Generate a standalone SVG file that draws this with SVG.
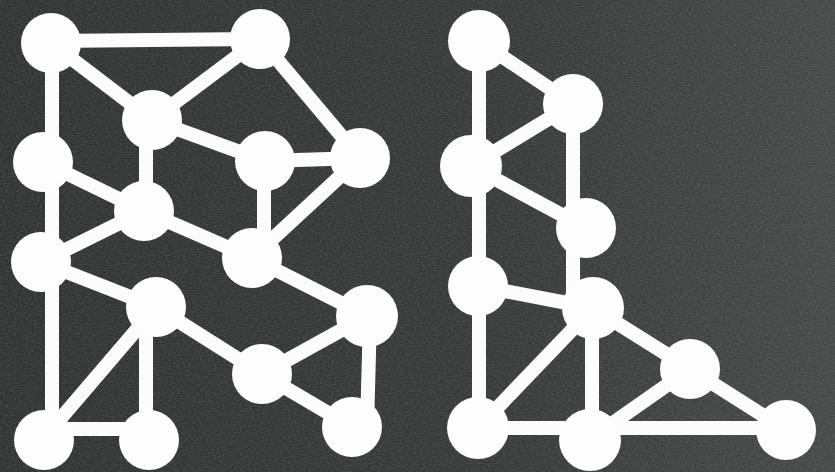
<svg xmlns="http://www.w3.org/2000/svg" width="835" height="472" viewBox="0 0 835 472">
<style>
.e{stroke:#fcfcfc;stroke-width:14;stroke-linecap:butt;fill:none}
.n{fill:#fdfdfd}
</style>
<defs>
<linearGradient id="bg" x1="0" y1="0" x2="1" y2="0">
<stop offset="0" stop-color="#2f3230"/>
<stop offset="0.6" stop-color="#363937"/>
<stop offset="1" stop-color="#454846"/>
</linearGradient>
<filter id="tex" x="0" y="0" width="1" height="1">
<feTurbulence type="fractalNoise" baseFrequency="0.35 0.9" numOctaves="2" seed="3" result="t"/>
<feColorMatrix type="matrix" values="0 0 0 0 0.6  0 0 0 0 0.62  0 0 0 0 0.6  0 0 0 0.3 -0.1"/>
</filter>
</defs>
<rect width="835" height="472" fill="url(#bg)"/>
<rect width="835" height="472" filter="url(#tex)"/>
<g id="connectors">
<line class="e" x1="51" y1="41" x2="260" y2="39"/>
<line class="e" x1="52" y1="43" x2="52" y2="438"/>
<line class="e" x1="51" y1="43" x2="152" y2="120"/>
<line class="e" x1="260" y1="39" x2="152" y2="120"/>
<line class="e" x1="260" y1="39" x2="360" y2="158"/>
<line class="e" x1="152" y1="120" x2="265" y2="161"/>
<line class="e" x1="146" y1="120" x2="146" y2="211"/>
<line class="e" x1="265" y1="161" x2="360" y2="158"/>
<line class="e" x1="264" y1="161" x2="264" y2="258"/>
<line class="e" x1="360" y1="158" x2="252" y2="258"/>
<line class="e" x1="43" y1="162" x2="144" y2="211"/>
<line class="e" x1="144" y1="211" x2="252" y2="258"/>
<line class="e" x1="41" y1="262" x2="144" y2="211"/>
<line class="e" x1="41" y1="262" x2="156" y2="307"/>
<line class="e" x1="252" y1="258" x2="367" y2="316"/>
<line class="e" x1="156" y1="307" x2="262" y2="374"/>
<line class="e" x1="156" y1="307" x2="44" y2="438"/>
<line class="e" x1="146" y1="307" x2="146" y2="439"/>
<line class="e" x1="44" y1="429" x2="149" y2="429"/>
<line class="e" x1="262" y1="374" x2="367" y2="316"/>
<line class="e" x1="262" y1="374" x2="352" y2="427"/>
<line class="e" x1="370" y1="316" x2="367" y2="427"/>
<line class="e" x1="479" y1="41" x2="573" y2="104"/>
<line class="e" x1="479" y1="41" x2="479" y2="428"/>
<line class="e" x1="573" y1="104" x2="471" y2="166"/>
<line class="e" x1="471" y1="166" x2="586" y2="228"/>
<line class="e" x1="573" y1="104" x2="573" y2="308"/>
<line class="e" x1="478" y1="286" x2="593" y2="308"/>
<line class="e" x1="593" y1="308" x2="478" y2="428"/>
<line class="e" x1="592" y1="308" x2="592" y2="439"/>
<line class="e" x1="593" y1="308" x2="690" y2="369"/>
<line class="e" x1="690" y1="369" x2="590" y2="439"/>
<line class="e" x1="690" y1="369" x2="786" y2="430"/>
<line class="e" x1="478" y1="428" x2="786" y2="428"/>
</g>
<g id="nA"><circle class="n" cx="51" cy="43" r="30"/></g>
<g id="nB"><circle class="n" cx="260" cy="39" r="30"/></g>
<g id="nC"><circle class="n" cx="152" cy="120" r="30"/></g>
<g id="nD"><circle class="n" cx="43" cy="162" r="30"/></g>
<g id="nE"><circle class="n" cx="265" cy="161" r="30"/></g>
<g id="nF"><circle class="n" cx="360" cy="158" r="30"/></g>
<g id="nG"><circle class="n" cx="144" cy="211" r="30"/></g>
<g id="nH"><circle class="n" cx="252" cy="258" r="30"/></g>
<g id="nI"><circle class="n" cx="41" cy="262" r="30"/></g>
<g id="nJ"><circle class="n" cx="156" cy="307" r="30"/></g>
<g id="nK"><circle class="n" cx="367" cy="316" r="31"/></g>
<g id="nL"><circle class="n" cx="262" cy="374" r="30"/></g>
<g id="nM"><circle class="n" cx="44" cy="440" r="30"/></g>
<g id="nN"><circle class="n" cx="149" cy="440" r="30"/></g>
<g id="nO"><circle class="n" cx="352" cy="427" r="30"/></g>
<g id="nP"><circle class="n" cx="479" cy="41" r="31"/></g>
<g id="nQ"><circle class="n" cx="573" cy="104" r="30"/></g>
<g id="nR"><circle class="n" cx="471" cy="166" r="31"/></g>
<g id="nS"><circle class="n" cx="586" cy="228" r="30"/></g>
<g id="nT"><circle class="n" cx="478" cy="286" r="30"/></g>
<g id="nU"><circle class="n" cx="593" cy="308" r="31"/></g>
<g id="nV"><circle class="n" cx="690" cy="369" r="30"/></g>
<g id="nW"><circle class="n" cx="786" cy="430" r="30"/></g>
<g id="nX"><circle class="n" cx="590" cy="440" r="31"/></g>
<g id="nY"><circle class="n" cx="478" cy="428" r="31"/></g>
</svg>
